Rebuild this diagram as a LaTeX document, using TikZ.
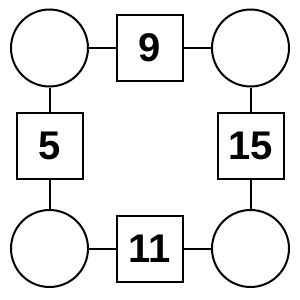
\documentclass[tikz,border=0pt]{standalone}
\usepackage{fontspec}
\setmainfont{Liberation Sans}
\begin{document}
\begin{tikzpicture}[x=1pt,y=-1pt,
  circ/.style={circle,draw,line width=2pt,minimum size=77pt,inner sep=0pt},
  sq/.style={rectangle,draw,line width=2pt,minimum size=66pt,inner sep=0pt,font=\fontsize{40}{40}\selectfont\bfseries},
  conn/.style={line width=2pt}]
\useasboundingbox (0,0) rectangle (300,300);
\node[circ] (c1) at (49.5,48) {};
\node[circ] (c2) at (250.5,48) {};
\node[circ] (c3) at (49.5,248.5) {};
\node[circ] (c4) at (250.5,248.5) {};
\node[sq] (s1) at (150,48) {9};
\node[sq] (s2) at (49.5,146) {5};
\node[sq] (s3) at (250.5,146) {15};
\node[sq] (s4) at (150,248.5) {11};
\draw[conn] (c1) -- (s1);
\draw[conn] (s1) -- (c2);
\draw[conn] (c1) -- (s2);
\draw[conn] (s2) -- (c3);
\draw[conn] (c2) -- (s3);
\draw[conn] (s3) -- (c4);
\draw[conn] (c3) -- (s4);
\draw[conn] (s4) -- (c4);
\end{tikzpicture}
\end{document}
